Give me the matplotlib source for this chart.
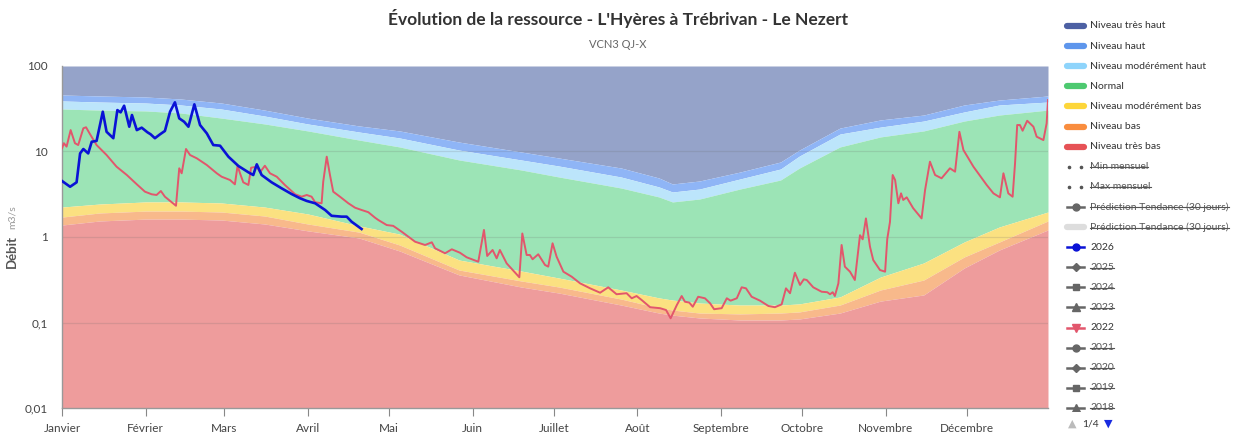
import matplotlib
matplotlib.use("Agg")
import matplotlib.pyplot as plt
from matplotlib.lines import Line2D
from matplotlib.patches import Rectangle

plt.rcParams['font.family'] = ['Lato', 'DejaVu Sans']

# --- data (day of year, m3/s) ---
month_days = [0, 31, 60, 91, 121, 152, 182, 213, 244, 274, 305, 335]
month_labels = ['Janvier', 'Février', 'Mars', 'Avril', 'Mai', 'Juin', 'Juillet',
                'Août', 'Septembre', 'Octobre', 'Novembre', 'Décembre']

band_days = [0, 14, 31, 44, 59, 75, 91, 110, 125, 147, 170, 184, 207, 221, 226,
             236, 251, 266, 273, 288, 303, 319, 334, 347, 365]
# lower limit of each class
lim_tres_haut = [45.8, 44.6, 43.4, 41.1, 36.9, 30.5, 24.6, 19.9, 17.4, 12.9, 9.87, 8.39,
                 6.41, 4.90, 4.17, 4.52, 5.75, 7.54, 10.4, 18.8, 23.4, 26.7, 35.0, 40.0, 44.6]
lim_haut = [39.0, 37.9, 36.9, 35.0, 31.4, 26.0, 21.0, 16.9, 14.4, 10.4, 7.96, 6.76,
            5.03, 3.85, 3.36, 3.64, 4.77, 6.24, 8.86, 16.0, 19.3, 22.7, 29.0, 35.0, 37.9]
lim_mod_haut = [31.4, 30.5, 29.8, 28.2, 24.6, 21.0, 17.4, 13.6, 11.3, 7.96, 6.08, 5.03,
                3.74, 2.94, 2.57, 2.78, 3.64, 4.64, 6.41, 11.3, 14.8, 17.4, 22.7, 26.7, 30.5]
lim_normal = [2.24, 2.43, 2.57, 2.57, 2.50, 2.24, 1.86, 1.35, 1.08, 0.538, 0.400, 0.331,
              0.240, 0.194, 0.183, 0.169, 0.160, 0.160, 0.165, 0.199, 0.340, 0.497, 0.874, 1.31, 1.96]
lim_mod_bas = [1.71, 1.91, 2.01, 2.01, 1.96, 1.76, 1.42, 1.14, 0.806, 0.411, 0.306, 0.260,
               0.188, 0.148, 0.140, 0.129, 0.126, 0.129, 0.133, 0.160, 0.240, 0.314, 0.584, 0.874, 1.54]
lim_bas = [1.38, 1.54, 1.62, 1.62, 1.58, 1.42, 1.18, 0.973, 0.686, 0.360, 0.260, 0.221,
           0.160, 0.129, 0.122, 0.113, 0.107, 0.107, 0.110, 0.129, 0.178, 0.210, 0.434, 0.705, 1.21]

days_2026 = [0, 3, 5.4, 6.7, 7.9, 9.7, 11.0, 12.8, 15.1, 16.5, 19.0, 20.5, 21.7, 23.0, 24.9,
             25.9, 27.7, 29.5, 31.6, 32.8, 34.4, 36.3, 38.1, 40.0, 41.8, 43.4, 45.2, 46.8,
             49.0, 51.1, 53.6, 56.0, 58.5, 61.6, 65.3, 69.0, 70.8, 72.1, 73.9, 77.6, 81.3,
             85.0, 88.1, 90.6, 93.7, 97.4, 99.8, 103.5, 105.4, 107.2, 110.9]
q_2026 = [4.52, 3.87, 4.36, 9.5, 10.7, 9.5, 13.0, 13.3, 29.2, 17.0, 14.3, 30.5, 28.7, 34.3, 19.5,
          26.7, 17.8, 19.0, 16.8, 15.9, 14.3, 15.9, 17.4, 29.2, 37.6, 24.4, 22.3, 19.5,
          35.6, 20.4, 16.3, 11.9, 11.7, 8.7, 6.77, 5.71, 5.31, 7.08, 5.31, 4.36, 3.71,
          3.18, 2.84, 2.64, 2.48, 2.07, 1.77, 1.73, 1.73, 1.51, 1.24]

days_2022 = [0, 0.7, 1.7, 3.2, 4.8, 6.0, 7.9, 8.9, 10.4, 12.8, 16.5, 20.2, 24.0, 27.7, 30.7,
             33.2, 35.0, 36.6, 38.1, 40.0, 42.2, 43.4, 44.3, 45.9, 47.4, 49.9, 53.6, 57.3,
             59.1, 62.2, 64.0, 65.0, 65.9, 67.1, 69.0, 70.0, 72.1, 73.3, 75.1, 77.0, 79.5,
             82.5, 86.3, 88.7, 90.6, 92.4, 93.7, 96.1, 96.7, 98.0, 99.2, 100.4, 102.9, 106.0,
             108.5, 110.9, 113.4, 115.9, 117.1, 120.2, 122.6, 125.8, 130.7, 134.4, 136.9,
             138.1, 141.8, 144.3, 147.3, 149.8, 154.1, 156.2, 157.4, 159.4, 160.9, 162.1,
             164.6, 169.3, 170.4, 172.0, 173.2, 174.2, 176.3, 178.8, 180.0, 181.6, 183.1,
             185.6, 188.7, 191.8, 195.5, 199.2, 202.2, 205.3, 209.0, 210.9, 212.7, 214.6,
             217.7, 221.4, 223.6, 225.3, 227.6, 229.4, 230.6, 232.2, 233.5, 235.5, 238.0,
             239.9, 241.4, 244.2, 246.1, 247.5, 249.8, 251.6, 253.2, 255.3, 258.4, 261.5,
             263.9, 266.4, 268.0, 269.5, 271.3, 273.2, 274.6, 275.7, 278.1, 281.2, 283.3,
             284.3, 285.3, 286.1, 287.4, 288.6, 289.8, 291.7, 293.5, 295.4, 296.4, 297.6,
             299.1, 300.3, 302.8, 304.7, 305.5, 306.5, 307.5, 308.4, 309.6, 310.6, 311.4,
             312.7, 315.1, 318.2, 319.5, 321.3, 323.2, 325.6, 328.7, 330.6, 332.2, 333.7,
             337.4, 342.3, 344.8, 347.2, 348.5, 350.3, 351.9, 352.8, 353.6, 354.6, 355.6,
             357.3, 359.6, 360.8, 363.3, 364.5, 365.0]
q_2022 = [10.9, 12.5, 11.4, 17.8, 12.5, 11.9, 18.7, 19.2, 15.9, 11.9, 9.1, 6.64, 5.31, 4.13, 3.39,
          3.16, 3.10, 3.45, 2.96, 2.64, 2.32, 6.36, 5.56, 10.7, 9.1, 8.32, 6.95, 5.56,
          5.07, 4.64, 4.13, 6.82, 5.56, 4.36, 4.06, 6.46, 6.64, 5.71, 6.82, 5.56, 5.07,
          4.06, 3.16, 2.96, 3.10, 2.96, 2.55, 2.48, 4.43, 8.7, 5.31, 3.39, 2.96, 2.48,
          2.20, 2.07, 1.95, 1.68, 1.58, 1.38, 1.35, 1.15, 0.881, 0.806, 0.867,
          0.738, 0.645, 0.718, 0.655, 0.579, 0.514, 1.21, 0.600, 0.705, 0.563, 0.705,
          0.492, 0.338, 1.10, 0.616, 0.616, 0.549, 0.628, 0.471, 0.450, 0.844, 0.588,
          0.393, 0.343, 0.287, 0.251, 0.223, 0.258, 0.214, 0.220, 0.192, 0.204, 0.183,
          0.151, 0.147, 0.140, 0.112, 0.160, 0.204, 0.175, 0.171, 0.153, 0.200, 0.192,
          0.168, 0.143, 0.147, 0.192, 0.180, 0.192, 0.258, 0.251, 0.200, 0.180, 0.156,
          0.151, 0.163, 0.251, 0.220, 0.382, 0.275, 0.320, 0.314, 0.258, 0.229, 0.226,
          0.214, 0.226, 0.204, 0.287, 0.806, 0.450, 0.393, 0.314, 1.05, 0.940, 1.65,
          0.770, 0.538, 0.411, 0.393, 0.95, 1.5, 5.31, 4.64, 2.48, 3.24, 2.71,
          2.91, 2.17, 1.65, 3.55, 7.60, 5.31, 4.86, 6.36, 5.81, 17.0, 10.4,
          6.64, 4.06, 3.24, 2.91, 5.56, 3.24, 2.96, 7.28, 20.4, 20.4, 17.5,
          22.9, 19.5, 14.9, 13.6, 21.4, 40.0]

y_ticks = [0.01, 0.1, 1, 10, 100]
y_ticklabels = ['0,01', '0,1', '1', '10', '100']

W, H = 1236, 438
fig = plt.figure(figsize=(W / 100, H / 100), dpi=100)
ax = fig.add_axes([62 / W, 1 - 408 / H, 986 / W, 342 / H])
ax.set_yscale('log')
ax.set_xlim(0, 365)
ax.set_ylim(0.01, 100)

top = [100] * len(band_days)
bottom = [0.01] * len(band_days)
ax.fill_between(band_days, lim_tres_haut, top, color='#95A3C9', lw=0)
ax.fill_between(band_days, lim_haut, lim_tres_haut, color='#8FB5F6', lw=0)
ax.fill_between(band_days, lim_mod_haut, lim_haut, color='#BCE5FB', lw=0)
ax.fill_between(band_days, lim_normal, lim_mod_haut, color='#9CE4B6', lw=0)
ax.fill_between(band_days, lim_mod_bas, lim_normal, color='#FBE181', lw=0)
ax.fill_between(band_days, lim_bas, lim_mod_bas, color='#F8B98B', lw=0)
ax.fill_between(band_days, bottom, lim_bas, color='#EE9C9C', lw=0)

for v in [0.1, 1, 10]:
    ax.axhline(v, color='#666666', alpha=0.18, lw=0.9, zorder=2)

ax.plot(days_2022, q_2022, color='#E2566C', lw=1.4, zorder=3)
ax.plot(days_2026, q_2026, color='#0A12D6', lw=1.9, zorder=4)

ax.set_xticks(month_days)
ax.set_xticklabels(month_labels, fontsize=8.5, color='#444444')
ax.tick_params(axis='x', length=6, color='#888888', pad=5)
ax.set_yticks(y_ticks)
ax.set_yticklabels(y_ticklabels, fontsize=8.5, color='#444444')
ax.tick_params(axis='y', length=0, pad=10)
ax.minorticks_off()
for s in ['top', 'right']:
    ax.spines[s].set_visible(False)
for s in ['left', 'bottom']:
    ax.spines[s].set_color('#999999')
    ax.spines[s].set_linewidth(1)

fig.text(618 / W, 1 - 19 / H, "Évolution de la ressource - L'Hyères à Trébrivan - Le Nezert",
         ha='center', va='center', fontsize=12.5, fontweight='bold', color='#333333')
fig.text(618 / W, 1 - 44 / H, 'VCN3 QJ-X', ha='center', va='center', fontsize=8, color='#666666')
fig.text(12 / W, 1 - 251 / H, 'Débit', rotation=90, ha='center', va='center',
         fontsize=9.5, fontweight='bold', color='#555555')
fig.text(12 / W, 1 - 217 / H, 'm3/s', rotation=90, ha='center', va='center',
         fontsize=7.5, color='#999999')

# --- legend drawn by hand ---
legend_items = [
    ('Niveau très haut', 'patch', '#4C60A3', None, False),
    ('Niveau haut', 'patch', '#5E96EC', None, False),
    ('Niveau modérément haut', 'patch', '#8ED4FB', None, False),
    ('Normal', 'patch', '#4DC970', None, False),
    ('Niveau modérément bas', 'patch', '#FDD63A', None, False),
    ('Niveau bas', 'patch', '#F98D3F', None, False),
    ('Niveau très bas', 'patch', '#E65256', None, False),
    ('Min mensuel', 'dots', '#555555', None, True),
    ('Max mensuel', 'dots', '#555555', None, True),
    ('Prédiction Tendance (30 jours)', 'line', '#666666', 'o', True),
    ('Prédiction Tendance (30 jours)', 'patch', '#DDDDDD', None, True),
    ('2026', 'line', '#0A12D6', 'o', False),
    ('2025', 'line', '#666666', 'D', True),
    ('2024', 'line', '#666666', 's', True),
    ('2023', 'line', '#666666', '^', True),
    ('2022', 'line', '#E2566C', 'v', False),
    ('2021', 'line', '#666666', 'o', True),
    ('2020', 'line', '#666666', 'D', True),
    ('2019', 'line', '#666666', 's', True),
    ('2018', 'line', '#666666', '^', True),
]

renderer = fig.canvas.get_renderer()
for i, (label, kind, color, marker, hidden) in enumerate(legend_items):
    yp = 26 + i * 20.1
    fy = 1 - yp / H
    if kind == 'patch':
        fig.add_artist(Line2D([1067 / W, 1084 / W], [fy, fy], color=color, lw=4.5,
                              solid_capstyle='round', transform=fig.transFigure))
    elif kind == 'dots':
        fig.add_artist(Line2D([1069 / W, 1081 / W], [fy, fy], color=color, lw=0, marker='o',
                              markersize=1.6, transform=fig.transFigure))
    else:
        fig.add_artist(Line2D([1067 / W, 1084 / W], [fy, fy], color=color, lw=1.8,
                              transform=fig.transFigure))
        ms = {'o': 5, 's': 5, 'D': 4}.get(marker, 6)
        fig.add_artist(Line2D([1075.5 / W], [fy], color=color, lw=0, marker=marker,
                              markersize=ms, transform=fig.transFigure))
    tcolor = '#555555' if hidden else '#333333'
    t = fig.text(1090 / W, fy, label, ha='left', va='center', fontsize=7.5, color=tcolor)
    if hidden:
        bb = t.get_window_extent(renderer=renderer)
        fig.add_artist(Line2D([bb.x0 / W, bb.x1 / W], [fy - 0.5 / H, fy - 0.5 / H],
                              color='#555555', lw=0.8, transform=fig.transFigure))

# the last entry is cut by the legend box
fig.add_artist(Rectangle((1055 / W, 0), 180 / W, 1 - 412 / H, transform=fig.transFigure,
                         facecolor='white', edgecolor='none', zorder=5))
fig.text(1072 / W, 1 - 424 / H, '▲', ha='center', va='center', fontsize=8,
         color='#BBBBBB', zorder=6, family=['DejaVu Sans'])
fig.text(1090 / W, 1 - 424 / H, '1/4', ha='center', va='center', fontsize=7.5,
         color='#333333', zorder=6)
fig.text(1108 / W, 1 - 424 / H, '▼', ha='center', va='center', fontsize=8,
         color='#1A2BE0', zorder=6, family=['DejaVu Sans'])

fig.savefig('out.png', dpi=100)
